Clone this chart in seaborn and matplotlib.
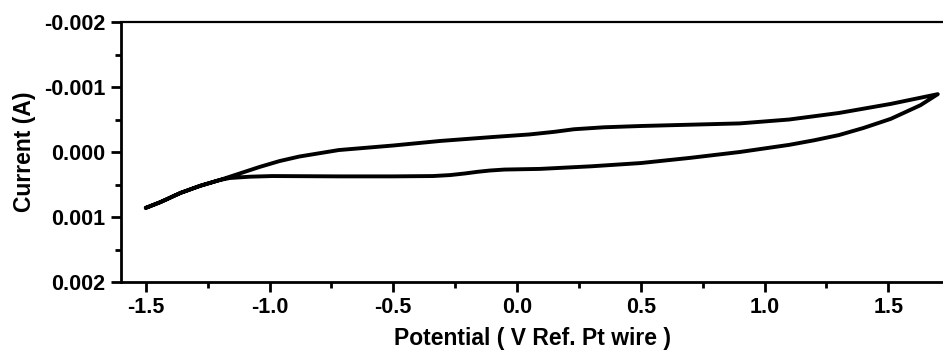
import matplotlib
matplotlib.use("Agg")
import matplotlib.pyplot as plt
import seaborn as sns
import pandas as pd
from matplotlib.ticker import MultipleLocator, FormatStrFormatter

# Forward scan (upper branch on the inverted axis), -1.5 -> 1.7 V
forward_potential = [-1.5, -1.44, -1.36, -1.28, -1.2, -1.12, -1.04, -0.96, -0.88, -0.80, -0.72, -0.5, -0.31,
                     -0.1, 0.05, 0.15, 0.23, 0.35, 0.5, 0.7, 0.9, 1.10, 1.30, 1.51, 1.70]
forward_current_mA = [0.86, 0.77, 0.63, 0.52, 0.43, 0.33, 0.23, 0.14, 0.07, 0.02, -0.03, -0.10, -0.17,
                      -0.23, -0.27, -0.31, -0.35, -0.38, -0.40, -0.42, -0.44, -0.50, -0.60, -0.74, -0.89]
# Reverse scan, 1.7 -> -1.5 V
reverse_potential = [1.70, 1.63, 1.51, 1.40, 1.30, 1.20, 1.10, 0.9, 0.7, 0.5, 0.3, 0.093, -0.05, -0.11, -0.16,
                     -0.21, -0.27, -0.34, -0.5, -0.715, -0.99, -1.08, -1.16, -1.2, -1.28, -1.36, -1.44, -1.5]
reverse_current_mA = [-0.89, -0.72, -0.51, -0.37, -0.26, -0.18, -0.11, 0.0, 0.09, 0.17, 0.22, 0.26, 0.27, 0.285, 0.305,
                      0.33, 0.355, 0.37, 0.375, 0.375, 0.37, 0.38, 0.40, 0.43, 0.52, 0.63, 0.77, 0.86]

x_ticks = [-1.5, -1.0, -0.5, 0.0, 0.5, 1.0, 1.5]
y_ticks = [-0.002, -0.001, 0.0, 0.001, 0.002]

sns.set_theme(style="ticks")
plt.rcParams['font.family'] = ['Liberation Sans', 'DejaVu Sans']
plt.rcParams['font.weight'] = 'bold'
plt.rcParams['axes.unicode_minus'] = False
for key in ['text.color', 'axes.labelcolor', 'xtick.color', 'ytick.color', 'axes.edgecolor']:
    plt.rcParams[key] = 'black'

potential = forward_potential + reverse_potential
current = [v * 1e-3 for v in forward_current_mA + reverse_current_mA]
df = pd.DataFrame({"Potential": potential, "Current": current})

fig = plt.figure(figsize=(9.43, 3.53), dpi=100)
ax = fig.add_axes([121 / 943, (353 - 282) / 353, (943 - 121) / 943, (282 - 22) / 353])
sns.lineplot(data=df, x="Potential", y="Current", sort=False, estimator=None,
             color="black", linewidth=2.8, ax=ax,
             solid_joinstyle='round', solid_capstyle='round')

ax.set_xlim(-1.6, 1.721)
ax.set_ylim(0.002, -0.002)
ax.set_xticks(x_ticks)
ax.set_yticks(y_ticks)
ax.xaxis.set_minor_locator(MultipleLocator(0.25))
ax.yaxis.set_minor_locator(MultipleLocator(0.0005))
ax.xaxis.set_major_formatter(FormatStrFormatter('%.1f'))
ax.yaxis.set_major_formatter(FormatStrFormatter('%.3f'))
ax.tick_params(axis='both', which='major', direction='out', length=7, width=2, labelsize=15.5, pad=4,
               colors='black')
ax.tick_params(axis='both', which='minor', direction='out', length=4, width=2, colors='black')
ax.tick_params(top=False, right=False, which='both')
for lab in ax.get_xticklabels() + ax.get_yticklabels():
    lab.set_fontweight('bold')

for side in ['left', 'bottom', 'top']:
    ax.spines[side].set_color('black')
for side in ['left', 'bottom']:
    ax.spines[side].set_linewidth(2)
ax.spines['top'].set_linewidth(1.6)
ax.spines['right'].set_visible(False)

ax.set_xlabel("Potential ( V Ref. Pt wire )", fontsize=16.5, fontweight='bold', labelpad=6, color='black')
ax.set_ylabel("Current (A)", fontsize=16.5, fontweight='bold', labelpad=6, color='black')

fig.savefig("out.png", dpi=100)
